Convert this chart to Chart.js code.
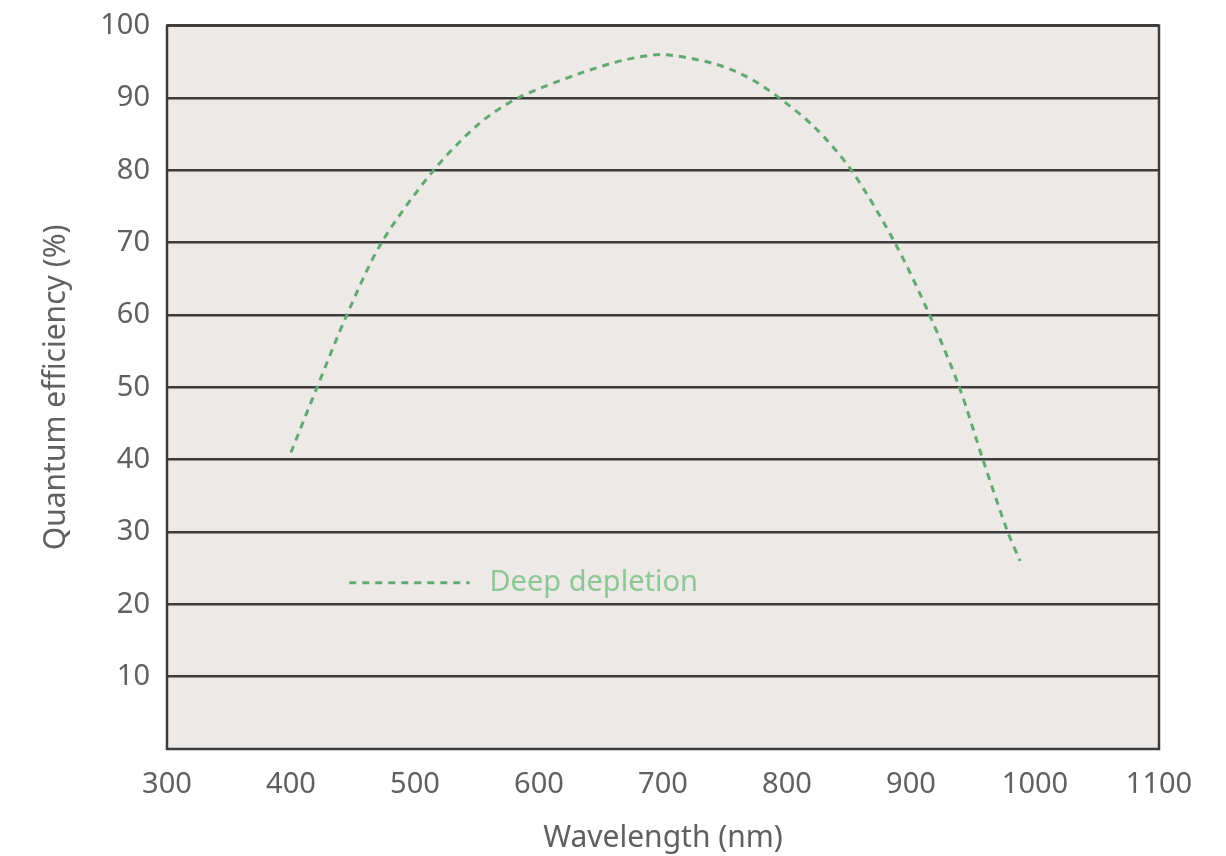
<!DOCTYPE html>
<html>
<head>
<meta charset="utf-8">
<script src="https://cdn.jsdelivr.net/npm/chart.js@4"></script>
<style>
  html, body { margin: 0; padding: 0; background: #fff; }
  #wrap { width: 1226px; height: 856px; }
</style>
</head>
<body>
<div id="wrap"><canvas id="qe" width="1226" height="856"></canvas></div>
<script>
// wavelength (nm) and quantum efficiency (%)
const wavelengths = [400, 421, 445, 473, 515, 552, 583, 633, 670, 700, 740, 767, 790, 822, 852, 887, 915, 939, 958, 978, 988];
const efficiency  = [41, 50, 60, 70, 80, 86.5, 90, 93.4, 95.3, 96, 94.8, 93.0, 90.5, 86, 80, 70, 60, 50, 40, 30, 26];
const seriesName = "Deep depletion";
const xTicks = [300, 400, 500, 600, 700, 800, 900, 1000, 1100];
const yTicks = [10, 20, 30, 40, 50, 60, 70, 80, 90, 100];

const lineColor = "#62aa72";
const textColor = "#8cc794";
const frameColor = "#3c3c3c";
const font = "'Noto Sans', 'Open Sans', sans-serif";

// plot background and frame
const framePlugin = {
    id: "frame",
    beforeDraw(chart) {
        const a = chart.chartArea, c = chart.ctx;
        c.save();
        c.fillStyle = "#ece9e7";
        c.fillRect(a.left, a.top, a.right - a.left, a.bottom - a.top);
        c.restore();
    },
    afterDatasetsDraw(chart) {
        const a = chart.chartArea, c = chart.ctx;
        c.save();
        c.strokeStyle = frameColor;
        c.lineWidth = 2.5;
        c.strokeRect(a.left, a.top, a.right - a.left, a.bottom - a.top);
        c.restore();
    }
};

// legend sits inside the plot, placed in data units
const legendPlugin = {
    id: "innerLegend",
    afterDraw(chart) {
        const x = chart.scales.x, y = chart.scales.y, c = chart.ctx;
        const yy = y.getPixelForValue(23);
        c.save();
        c.strokeStyle = lineColor;
        c.lineWidth = 3;
        c.setLineDash([7, 6]);
        c.beginPath();
        c.moveTo(x.getPixelForValue(447), yy);
        c.lineTo(x.getPixelForValue(544), yy);
        c.stroke();
        c.setLineDash([]);
        c.fillStyle = textColor;
        c.font = "29px " + font;
        c.textBaseline = "middle";
        c.fillText(seriesName, x.getPixelForValue(560), yy);
        c.restore();
    }
};

new Chart(document.getElementById("qe"), {
    type: "line",
    data: {
        datasets: [{
            label: seriesName,
            data: wavelengths.map((w, i) => ({ x: w, y: efficiency[i] })),
            borderColor: lineColor,
            borderWidth: 3,
            borderDash: [7, 6],
            pointRadius: 0,
            tension: 0.3,
            fill: false
        }]
    },
    options: {
        responsive: false,
        animation: false,
        layout: { padding: { top: 24, right: 67, bottom: 0, left: 0 } },
        plugins: { legend: { display: false }, tooltip: { enabled: false } },
        scales: {
            x: {
                type: "linear",
                min: 300, max: 1100,
                afterBuildTicks(s) { s.ticks = xTicks.map(v => ({ value: v })); },
                afterFit(s) { s.height = 107; },
                grid: { display: false },
                border: { display: false },
                ticks: { color: "#606060", font: { family: font, size: 29 }, padding: 10, maxRotation: 0, callback: v => String(v) },
                title: { display: true, text: "Wavelength (nm)", color: "#606060", font: { family: font, size: 30 }, padding: { top: 0, bottom: 0 } }
            },
            y: {
                min: 0, max: 100,
                afterBuildTicks(s) { s.ticks = yTicks.map(v => ({ value: v })); },
                afterFit(s) { s.width = 167; },
                grid: { color: frameColor, lineWidth: 2.5, drawTicks: false },
                border: { display: false },
                ticks: { color: "#606060", font: { family: font, size: 29, lineHeight: 0.6 }, padding: 17, callback: v => String(v) },
                title: { display: true, text: "Quantum efficiency (%)", color: "#606060", font: { family: font, size: 30 }, padding: { top: 38, bottom: 0 } }
            }
        }
    },
    plugins: [framePlugin, legendPlugin]
});
</script>
</body>
</html>
